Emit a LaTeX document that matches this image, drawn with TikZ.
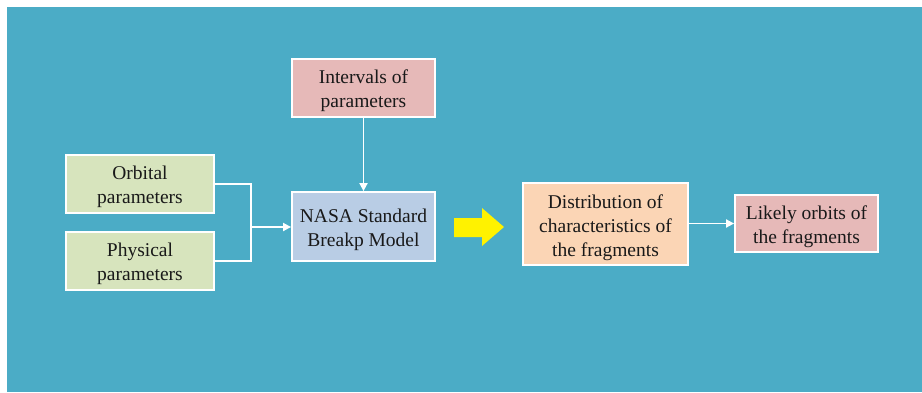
\documentclass[tikz,border=0pt]{standalone}
\usepackage{fontspec}
\setmainfont{Liberation Serif}
\usetikzlibrary{arrows.meta,calc}
\definecolor{bgblue}{HTML}{4BACC6}
\definecolor{pinkbox}{HTML}{E6B9B8}
\definecolor{greenbox}{HTML}{D7E4BD}
\definecolor{bluebox}{HTML}{B9CDE5}
\definecolor{orangebox}{HTML}{FBD5B5}
\tikzset{
  box/.style={draw=white, line width=1.8pt, inner sep=0pt},
  txt/.style={align=center, inner sep=0pt, font=\fontsize{19.5}{24}\selectfont, text=black!90},
  wire/.style={draw=white, line width=1.7pt},
  conn/.style={wire, -{Triangle[length=8pt,width=8pt]}},
}
\begin{document}
\begin{tikzpicture}[x=1pt,y=1pt]
\useasboundingbox (0,0) rectangle (922,392);
\fill[white] (0,0) rectangle (922,392);
\fill[bgblue] (7,0) rectangle (922,385);
% boxes: centers in (x, 392-y)
\node[box, fill=pinkbox, minimum width=143pt, minimum height=58pt] (intv) at (363.5,304) {};
\node[box, fill=greenbox, minimum width=148pt, minimum height=58pt] (orb) at (140,208) {};
\node[box, fill=greenbox, minimum width=148pt, minimum height=58pt] (phys) at (140,131) {};
\node[box, fill=bluebox, minimum width=143pt, minimum height=69pt] (nasa) at (363.5,165.5) {};
\node[box, fill=orangebox, minimum width=165pt, minimum height=82pt] (dist) at (605.5,168) {};
\node[box, fill=pinkbox, minimum width=143pt, minimum height=57pt] (lik) at (806.5,168.5) {};
% texts
\node[txt] (intvt) at ([yshift=-3pt]intv.center) {Intervals of\\parameters};
\node[txt] (orbt) at ([yshift=-3pt]orb.center) {Orbital\\parameters};
\node[txt] (physt) at ([yshift=-3pt]phys.center) {Physical\\parameters};
\node[txt] (nasat) at ([yshift=-3pt]nasa.center) {NASA Standard\\Breakp Model};
\node[txt] (distt) at ([yshift=-3.5pt]dist.center) {Distribution of\\characteristics of\\the fragments};
\node[txt] (likt) at ([yshift=-3pt]lik.center) {Likely orbits of\\the fragments};
% junction
\coordinate (j) at (251,165);
\draw[wire] (orb.east) -| (j);
\draw[wire] (phys.east) -| (j);
\draw[conn] (j) -- (nasa.west |- j);
\draw[conn] (intv.south) -- (nasa.north);
\draw[conn] (dist.east |- lik.west) -- (lik.west);
% yellow block arrow
\fill[yellow] (454,174) -- (482,174) -- (482,184) -- (504,165) -- (482,146) -- (482,155) -- (454,155) -- cycle;
\end{tikzpicture}
\end{document}
